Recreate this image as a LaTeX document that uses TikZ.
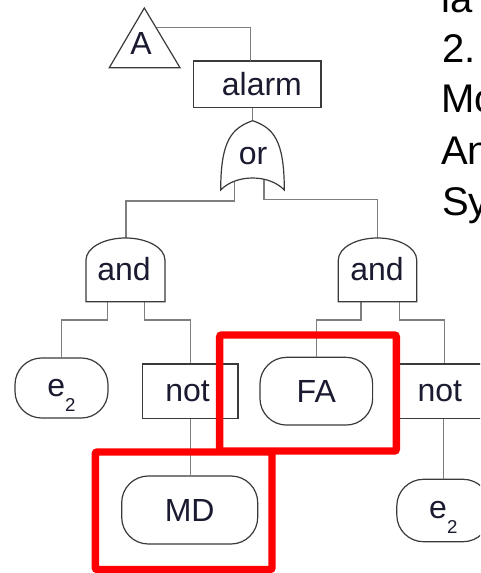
\documentclass[tikz,border=0pt]{standalone}
\usepackage{fontspec}
\setmainfont{Liberation Sans}
\definecolor{shapeline}{HTML}{3A3A3A}
\definecolor{wire}{HTML}{7E7E7E}
\definecolor{txt}{HTML}{1A1A30}
\tikzset{
  lbl/.style={font=\fontsize{24}{28}\selectfont, text=txt, inner sep=0pt},
  boxnode/.style={draw=shapeline, line width=0.9pt, fill=white, lbl},
  leaf/.style={boxnode, rounded corners=20pt},
  wireline/.style={draw=wire, line width=1.1pt},
  gateline/.style={draw=shapeline, line width=0.9pt, fill=white},
  redframe/.style={draw=red, line width=5.6pt, rounded corners=1.5pt},
  sidetext/.style={font=\fontsize{30}{36}\selectfont, text=black, anchor=base west, inner sep=0pt}
}
\newcommand{\etwo}{e\smash{\raisebox{-11pt}{\fontsize{14}{14}\selectfont 2}}}
\begin{document}
\begin{tikzpicture}[x=0.75pt,y=-0.75pt]
\clip (0,0) rectangle (480,573);
\fill[white] (0,0) rectangle (480,573);

% --- gate pins (named coordinates)
\coordinate (Aout) at (156,27.7);
\coordinate (alarmIn) at (250.7,61);
\coordinate (orTop) at (252.7,120.7);
\coordinate (orInL) at (234.3,178);
\coordinate (orInR) at (264,178);
\coordinate (andLtop) at (126,238);
\coordinate (andRtop) at (377.7,238);
\coordinate (andLo1) at (107.3,301.7);
\coordinate (andLo2) at (144.3,301.7);
\coordinate (andRo1) at (361,301.7);
\coordinate (andRo2) at (399.3,301.7);

% --- leaf and box nodes
\node[boxnode, minimum width=95.8pt, minimum height=34.7pt] (alarm) at (257.2,84.2) {\hspace*{7pt}alarm};
\node[leaf, minimum width=69.75pt, minimum height=45pt] (e2L) at (61.5,388) {\etwo};
\node[boxnode, minimum width=71.5pt, minimum height=40.7pt] (notL) at (190.3,391.2) {not\hspace*{4pt}};
\node[leaf, minimum width=84.5pt, minimum height=50.8pt] (FA) at (316.3,391.2) {FA};
\node[boxnode, minimum width=71.5pt, minimum height=40.7pt] (notR) at (446.5,391.2) {not\hspace*{10pt}};
\node[leaf, minimum width=102pt, minimum height=51pt] (MD) at (189.7,510) {MD};
\node[leaf, minimum width=69.75pt, minimum height=46.8pt] (e2R) at (443.3,510.5) {\etwo};
\coordinate (notRin) at ([xshift=-1.6pt]notR.north);
\coordinate (notRout) at ([xshift=-2.4pt]notR.south);

% --- connectors
\draw[wireline] (Aout) -| (alarmIn);
\draw[wireline] (alarm.south -| orTop) -- (orTop);
\draw[wireline] (orInL) -- (234.3,201) -| (andLtop);
\draw[wireline] (orInR) -- (264,199.3) -| (andRtop);
\draw[wireline] (andLo1) -- (107.3,320) -| (e2L.north);
\draw[wireline] (andLo2) -- (144.3,320) -| (notL.north);
\draw[wireline] (andRo1) -- (361,320) -| (FA.north);
\draw[wireline] (andRo2) -- (399.3,320) -| (notRin);
\draw[wireline] (notL.south) -- (notL.south |- MD.north);
\draw[wireline] (notRout) -- (notRout |- e2R.north);

% --- transfer triangle
\draw[gateline] (144.3,8) -- (180,67.7) -- (109.3,67.7) -- cycle;
\node[lbl] (A) at (141,43) {A};

% --- or gate
\draw[gateline] (orTop) .. controls (232,128) and (220.7,140) .. (220.7,190)
  .. controls (236,174) and (269,174) .. (284.3,190)
  .. controls (284.3,140) and (273.4,128) .. (orTop) -- cycle;
\node[lbl] (orlbl) at (253,156) {or};

% --- and gates
\draw[gateline] (86,301.7) -- (86,260) arc[start angle=180, end angle=0, x radius=29.6pt, y radius=16.5pt] -- (165,301.7) -- cycle;
\node[lbl] (andLlbl) at (124,269.5) {and};
\draw[gateline] (338.3,301.7) -- (338.3,260) arc[start angle=180, end angle=0, x radius=29.4pt, y radius=16.5pt] -- (416.7,301.7) -- cycle;
\node[lbl] (andRlbl) at (377,269.5) {and};

% --- side text (cut off by the frame, as in the reference)
\node[sidetext] (t1) at (441,13) {la};
\node[sidetext] (t2) at (442,63) {2.};
\node[sidetext] (t3) at (441,113) {Mo};
\node[sidetext] (t4) at (441,164.5) {An};
\node[sidetext] (t5) at (442,215) {Sy};

% --- red highlight frames
\draw[redframe] (219.7,335) rectangle (396.3,451);
\draw[redframe] (95.3,452) rectangle (272,569.5);
\end{tikzpicture}
\end{document}
